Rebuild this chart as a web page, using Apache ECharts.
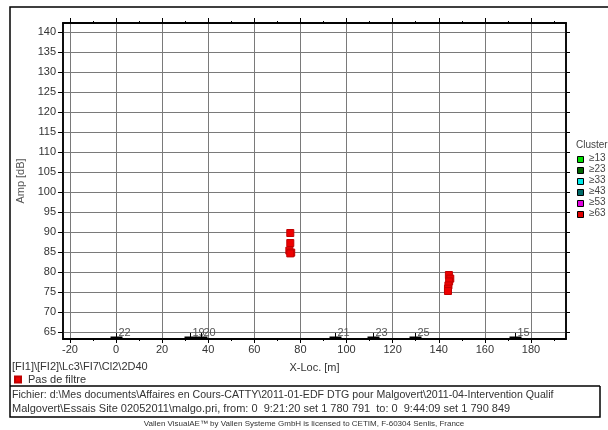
<!DOCTYPE html>
<html>
<head>
<meta charset="utf-8">
<script src="https://cdn.jsdelivr.net/npm/echarts@6/dist/echarts.min.js"></script>
<style>
  html, body { margin: 0; padding: 0; background: #fff; }
  #chart { width: 608px; height: 430px; }
</style>
</head>
<body>
<div id="chart"></div>
<script>
// Located hits: X location [m] and amplitude [dB]
const hitsX   = [75.6, 75.6, 75.2, 76.0, 75.6, 144.4, 145.0, 144.5, 144.2, 144.0, 144.0];
const hitsAmp = [89.7, 87.2, 85.3, 84.8, 84.6, 79.2, 78.3, 77.6, 76.6, 75.8, 75.2];

// Sensor positions along the line and their channel numbers
const sensorX   = [0, 32.3, 37.0, 95.1, 111.5, 129.6, 172.9];
const sensorIds = ['22', '19', '20', '21', '23', '25', '15'];

// Axis ranges and tick values
const xRange = [-23, 195.2];
const yRange = [63.2, 142.2];
const xMajorTicks = [-20, 0, 20, 40, 60, 80, 100, 120, 140, 160, 180];
const xMinorTicks = [-20, -10, 0, 10, 20, 30, 40, 50, 60, 70, 80, 90, 100, 110, 120, 130, 140, 150, 160, 170, 180, 190];
const yTicks = [65, 70, 75, 80, 85, 90, 95, 100, 105, 110, 115, 120, 125, 130, 135, 140];

// Cluster colour classes
const clusterLabels = ['\u226513', '\u226523', '\u226533', '\u226543', '\u226553', '\u226563'];
const clusterColors = ['#00e000', '#006400', '#00e8e8', '#006a6a', '#e000e0', '#e00000'];

const FONT = '"Liberation Sans", Arial, sans-serif';
const TXT = '#333';

const chart = echarts.init(document.getElementById('chart'), null, { renderer: 'canvas' });

const hitData = hitsX.map((x, i) => [x, hitsAmp[i]]);
const sensorData = sensorX.map((x, i) => [x, i]);

function xAxisDef(pos, ticks, tickLen, withLabels, withSplit) {
  return {
    type: 'value', position: pos, min: xRange[0], max: xRange[1],
    axisLine: { show: true, onZero: false, lineStyle: { color: '#000', width: 1.5 } },
    axisTick: { show: true, customValues: ticks, length: tickLen, lineStyle: { color: '#000', width: 1 } },
    axisLabel: withLabels
      ? { show: true, customValues: xMajorTicks, color: TXT, fontSize: 11, fontFamily: FONT, margin: 5 }
      : { show: false },
    splitLine: withSplit ? { show: true, lineStyle: { color: '#7a7a7a', width: 1 } } : { show: false }
  };
}

const legendItems = [];
legendItems.push({
  type: 'text', left: 576, top: 140,
  style: { text: 'Cluster', fill: '#444', font: '10px ' + FONT }
});
clusterLabels.forEach((lab, i) => {
  legendItems.push({
    type: 'rect', left: 577, top: 156 + i * 11,
    shape: { width: 6, height: 6 },
    style: { fill: clusterColors[i], stroke: '#000', lineWidth: 1 }
  });
  legendItems.push({
    type: 'text', left: 589, top: 153 + i * 11,
    style: { text: lab, fill: '#444', font: '10px ' + FONT }
  });
});

const option = {
  backgroundColor: '#fff',
  animation: false,
  grid: {
    left: 63, top: 23, right: 42, bottom: 91,
    show: true, borderColor: '#000', borderWidth: 1.5, backgroundColor: '#fff'
  },
  legend: {
    left: 9, top: 369, itemWidth: 6, itemHeight: 6, itemGap: 6,
    icon: 'rect',
    data: ['Pas de filtre'],
    textStyle: { color: TXT, fontSize: 11, fontFamily: FONT, padding: [0, 0, 0, 2] }
  },
  xAxis: [
    Object.assign(xAxisDef('bottom', xMajorTicks, 4, true, true), {
      name: 'X-Loc. [m]', nameLocation: 'middle', nameGap: 23,
      nameTextStyle: { color: TXT, fontSize: 11, fontFamily: FONT }
    }),
    xAxisDef('bottom', xMinorTicks, 2, false, false),
    xAxisDef('top', xMajorTicks, 5, false, false),
    xAxisDef('top', xMinorTicks, 2, false, false)
  ],
  yAxis: [
    {
      type: 'value', position: 'left', min: yRange[0], max: yRange[1],
      name: 'Amp [dB]', nameLocation: 'middle', nameGap: 37,
      nameTextStyle: { color: '#555', fontSize: 11, fontFamily: FONT },
      axisLine: { show: true, onZero: false, lineStyle: { color: '#000', width: 1.5 } },
      axisTick: { show: true, customValues: yTicks, length: 5, lineStyle: { color: '#000' } },
      axisLabel: { show: true, customValues: yTicks, color: TXT, fontSize: 11, fontFamily: FONT, margin: 7 },
      splitLine: { show: true, lineStyle: { color: '#7a7a7a', width: 1 } }
    },
    {
      type: 'value', position: 'right', min: yRange[0], max: yRange[1],
      axisLine: { show: true, onZero: false, lineStyle: { color: '#000', width: 1.5 } },
      axisTick: { show: true, customValues: yTicks, length: 4, lineStyle: { color: '#000' } },
      axisLabel: { show: false },
      splitLine: { show: false }
    }
  ],
  series: [
    {
      name: 'Pas de filtre',
      type: 'scatter',
      xAxisIndex: 0, yAxisIndex: 0,
      symbol: 'rect', symbolSize: 7,
      itemStyle: { color: '#ee0000', borderColor: '#c00000', borderWidth: 1, opacity: 1 },
      data: hitData,
      z: 5
    },
    {
      name: 'Sensors',
      type: 'custom',
      xAxisIndex: 0, yAxisIndex: 0,
      clip: false,
      silent: true,
      data: sensorData,
      renderItem: function (params, api) {
        const p = api.coord([api.value(0), yRange[0]]);
        const x = Math.round(p[0]) + 0.5;
        const y = p[1];
        return {
          type: 'group',
          children: [
            { type: 'line', shape: { x1: x, y1: y - 6, x2: x, y2: y }, style: { stroke: '#000', lineWidth: 1 } },
            { type: 'line', shape: { x1: x - 6, y1: y - 1.5, x2: x + 6, y2: y - 1.5 }, style: { stroke: '#000', lineWidth: 2 } },
            {
              type: 'text', x: x + 2, y: y - 1,
              style: {
                text: sensorIds[params.dataIndex], fill: '#555',
                font: '11px ' + FONT, textAlign: 'left', textVerticalAlign: 'bottom'
              }
            }
          ]
        };
      },
      z: 6
    }
  ],
  graphic: [
    // outer frame
    { type: 'polyline', shape: { points: [[608, 7], [10, 7], [10, 417], [600, 417], [600, 386]] },
      style: { stroke: '#000', lineWidth: 1.5, fill: null }, silent: true },
    // separator above file info
    { type: 'line', shape: { x1: 10, y1: 386, x2: 600, y2: 386 },
      style: { stroke: '#000', lineWidth: 1.5 }, silent: true },
    // filter path
    { type: 'text', left: 12, top: 361,
      style: { text: '[FI1]\\[FI2]\\Lc3\\FI7\\Cl2\\2D40', fill: TXT, font: '11px ' + FONT } },
    // file info
    { type: 'text', left: 12, top: 390,
      style: { text: 'Fichier: d:\\Mes documents\\Affaires en Cours-CATTY\\2011-01-EDF DTG pour Malgovert\\2011-04-Intervention Qualif', fill: TXT, font: '10.6px ' + FONT } },
    { type: 'text', left: 12, top: 403,
      style: { text: 'Malgovert\\Essais Site 02052011\\malgo.pri, from: 0  9:21:20 set 1 780 791  to: 0  9:44:09 set 1 790 849', fill: TXT, font: '11px ' + FONT } },
    // licence line
    { type: 'text', x: 304, y: 424,
      style: { text: 'Vallen VisualAE\u2122 by Vallen Systeme GmbH is licensed to CETIM, F-60304 Senlis, France',
        fill: TXT, font: '8px ' + FONT, textAlign: 'center', textVerticalAlign: 'middle' } }
  ].concat(legendItems)
};

chart.setOption(option);
</script>
</body>
</html>
